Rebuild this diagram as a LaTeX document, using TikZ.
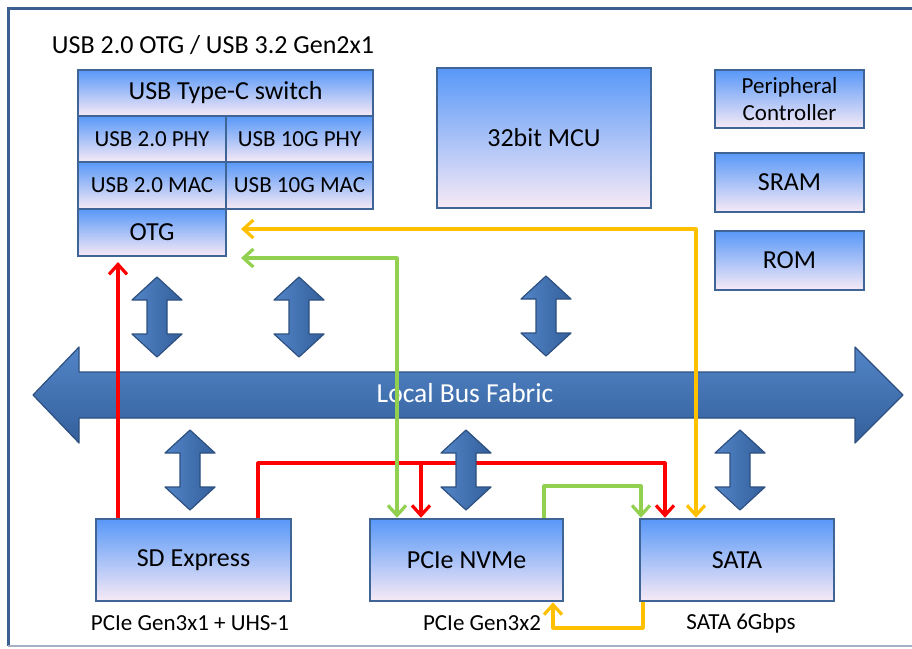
\documentclass[tikz,border=0pt]{standalone}
\usepackage{fontspec}
\setmainfont{Carlito}
\usetikzlibrary{arrows.meta}
\definecolor{bxborder}{RGB}{63,100,150}
\definecolor{bxtop}{RGB}{88,152,248}
\definecolor{bxbot}{RGB}{247,234,246}
\definecolor{busA}{RGB}{82,132,198}
\definecolor{busB}{RGB}{52,96,156}
\definecolor{busline}{RGB}{45,80,128}
\definecolor{lred}{RGB}{255,0,0}
\definecolor{lgreen}{RGB}{146,208,80}
\definecolor{lorange}{RGB}{255,192,0}
\definecolor{frameblue}{RGB}{60,95,145}
\definecolor{framelight}{RGB}{165,175,200}
\begin{document}
\begin{tikzpicture}[x=1pt,y=-1pt,
  blk/.style={draw=bxborder, line width=2.5pt, top color=bxtop, bottom color=bxbot,
    inner sep=0pt, align=center, text=black, font=\fontsize{26}{27}\selectfont},
  fsmall/.style={font=\fontsize{23}{27}\selectfont},
  lbl/.style={inner sep=0pt, font=\fontsize{23}{26}\selectfont},
  conn/.style={line width=3.2pt, line join=round, >={Straight Barb[length=10pt,width=18pt]}},
  rd/.style={conn, draw=lred},
  gr/.style={conn, draw=lgreen},
  og/.style={conn, draw=lorange},
  busarrow/.style={draw=busline, line width=1.2pt, top color=busA, bottom color=busB, line join=round},
  vd/.style={draw=busline, line width=1.2pt, left color=busA, right color=busB, line join=round},
  vdarrow/.pic={\path[vd] (0,0) -- (25,23) -- (10,23) -- (10,57) -- (25,57) -- (0,80)
      -- (-25,57) -- (-10,57) -- (-10,23) -- (-25,23) -- cycle;}
]
\useasboundingbox (0,0) rectangle (912,648);
% frame
\draw[frameblue, line width=3pt] (912,8) -- (8,8) -- (8,646);
\draw[framelight, line width=1.5pt] (8,646) -- (912,646);

% title
\node[lbl, font=\fontsize{26}{28}\selectfont] (title) at (213,45) {USB 2.0 OTG / USB 3.2 Gen2x1};

% USB block
\node[blk, minimum width=295pt, minimum height=46pt] (sw) at (225.5,93) {USB Type-C switch};
\node[blk, fsmall, minimum width=148pt, minimum height=46pt] (phy2) at (152,139) {USB 2.0 PHY};
\node[blk, fsmall, minimum width=147pt, minimum height=46pt] (phy10) at (299.5,139) {USB 10G PHY};
\node[blk, fsmall, minimum width=148pt, minimum height=47pt] (mac2) at (152,185.5) {USB 2.0 MAC};
\node[blk, fsmall, minimum width=147pt, minimum height=47pt] (mac10) at (299.5,185.5) {USB 10G MAC};
\node[blk, minimum width=148pt, minimum height=47pt] (otg) at (152,232.5) {OTG};

% MCU and memories
\node[blk, minimum width=214pt, minimum height=140pt] (mcu) at (544,138) {32bit MCU};
\node[blk, fsmall, minimum width=149pt, minimum height=58pt] (per) at (789.5,99) {Peripheral\\Controller};
\node[blk, minimum width=149pt, minimum height=59pt] (sram) at (789.5,182.5) {SRAM};
\node[blk, minimum width=149pt, minimum height=59pt] (rom) at (789.5,260.5) {ROM};

% bottom blocks
\node[blk, minimum width=195pt, minimum height=82pt] (sd) at (193.5,560) {SD Express};
\node[blk, minimum width=193pt, minimum height=82pt] (nvme) at (466.5,560) {PCIe NVMe};
\node[blk, minimum width=194pt, minimum height=82pt] (sata) at (737,560) {SATA};

\node[lbl] (l1) at (190,623) {PCIe Gen3x1 + UHS-1};
\node[lbl] (l2) at (482,623) {PCIe Gen3x2};
\node[lbl] (l3) at (741,623) {SATA 6Gbps};

% bus fabric
\path[busarrow] (33,395) -- (79,347) -- (79,372) -- (855,372) -- (855,347) -- (903,395)
  -- (855,443) -- (855,418) -- (79,418) -- (79,443) -- cycle;
\node[inner sep=0pt, text=white, font=\fontsize{27.5}{30}\selectfont] (bus) at (465,393) {Local Bus Fabric};

% connector free ends
\coordinate (redtip) at (118,262);
\coordinate (gtip) at (241,258);
\coordinate (otip) at (241,229);

% connectors
\draw[rd, ->] (118,0 |- sd.north) -- (redtip);
\draw[rd, ->] (258,0 |- sd.north) -- (258,463) -- (665,463) -- (665,0 |- sata.north);
\draw[rd, ->] (421,463) -- (421,0 |- nvme.north);
\draw[gr, <->] (gtip) -- (397,258) -- (397,0 |- nvme.north);
\draw[og, <->] (otip) -- (696,229) -- (696,0 |- sata.north);
\draw[gr, ->] (544,0 |- nvme.north) -- (544,486) -- (641,486) -- (641,0 |- sata.north);
\draw[og, ->] (643,0 |- sata.south) -- (643,628) -- (553,628) -- (553,0 |- nvme.south);

% vertical double arrows
\pic at (157,277) {vdarrow};
\pic at (299,277) {vdarrow};
\pic at (546,276) {vdarrow};
\pic at (190,430) {vdarrow};
\pic at (466,430) {vdarrow};
\pic at (740,430) {vdarrow};
\end{tikzpicture}
\end{document}
